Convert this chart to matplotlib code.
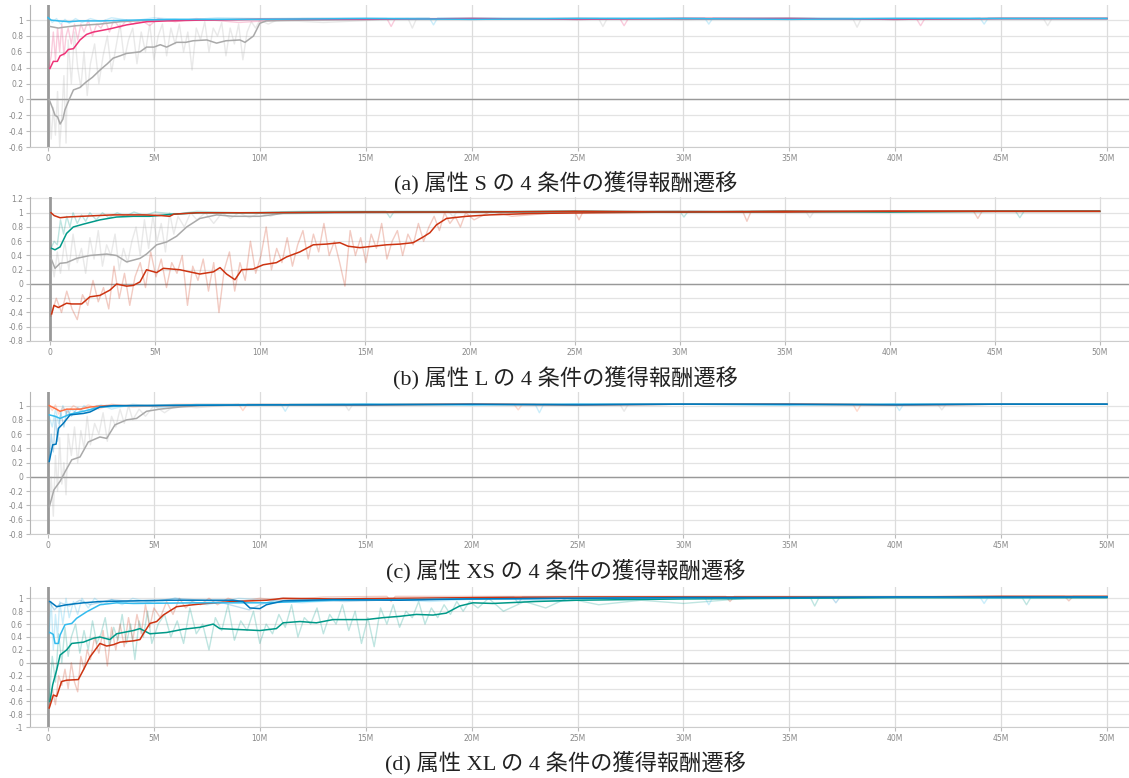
import matplotlib
matplotlib.use('Agg')
import matplotlib.pyplot as plt

# ---- data (steps in millions, reward values) ----

# (a) attribute S
A_BLUE_X = [0.0, 0.15, 0.5, 1.0, 1.5, 2.5, 4.0, 6.0, 10.0, 15, 20, 25, 30, 35, 40, 45, 50]
A_BLUE_Y = [1.03, 1.0, 0.99, 0.98, 0.99, 0.99, 1.0, 1.01, 1.01, 1.02, 1.01, 1.02, 1.02, 1.01, 1.02, 1.02, 1.02]
A_BLUE_RAW_X = [0.0, 0.2, 0.4, 0.6, 0.8, 1.0, 1.3, 1.6, 2.0, 2.5, 3.0, 4.0, 5.0, 6.5, 8.0, 10.0, 14.0, 18.0, 18.2, 18.4, 25.0, 31.0, 31.2, 31.4, 38.0, 44.0, 44.2, 44.4, 50.0]
A_BLUE_RAW_Y = [1.04, 0.97, 1.02, 0.95, 1.01, 0.96, 1.02, 0.97, 1.02, 0.98, 1.03, 0.99, 1.03, 1.0, 1.03, 1.02, 1.03, 1.03, 0.94, 1.03, 1.03, 1.03, 0.95, 1.03, 1.03, 1.03, 0.95, 1.03, 1.03]

A_PINK_X = [0.09, 0.25, 0.44, 0.57, 0.8, 0.96, 1.2, 1.51, 1.82, 2.14, 2.92, 3.71, 4.65, 5.6, 7.17, 10, 15, 20, 25, 30, 35, 40, 45, 50]
A_PINK_Y = [0.39, 0.48, 0.48, 0.55, 0.58, 0.63, 0.64, 0.75, 0.82, 0.85, 0.89, 0.94, 0.98, 0.99, 1.0, 1.01, 1.01, 1.02, 1.01, 1.02, 1.02, 1.01, 1.02, 1.02]
A_PINK_RAW_X = [0.05, 0.15, 0.25, 0.35, 0.45, 0.55, 0.65, 0.75, 0.85, 0.95, 1.1, 1.25, 1.4, 1.55, 1.7, 1.9, 2.1, 2.3, 2.5, 2.7, 2.9, 3.1, 3.4, 3.7, 4.0, 4.4, 4.8, 5.2, 6.0, 7.0, 9.0, 12.0, 16.0, 16.2, 16.4, 22.0, 27.0, 27.2, 27.4, 34.0, 41.0, 41.2, 41.4, 47.0, 50.0]
A_PINK_RAW_Y = [0.4, 0.55, 0.85, 0.5, 0.9, 0.6, 0.95, 0.55, 0.8, 0.9, 0.7, 0.95, 0.75, 0.95, 0.85, 1.0, 0.8, 0.95, 0.9, 1.0, 0.85, 1.0, 0.9, 1.0, 0.95, 1.0, 0.93, 1.02, 0.98, 1.02, 0.97, 1.02, 1.02, 0.92, 1.02, 1.02, 1.02, 0.93, 1.02, 1.02, 1.02, 0.93, 1.02, 1.02, 1.02]

A_GRAY_HI_X = [0.09, 0.49, 0.72, 1.04, 1.35, 2.45, 3.4, 4.81, 10, 15, 20, 25, 30, 35, 40, 45, 50]
A_GRAY_HI_Y = [0.92, 0.9, 0.91, 0.92, 0.93, 0.95, 0.98, 1.0, 1.01, 1.01, 1.02, 1.01, 1.02, 1.02, 1.01, 1.02, 1.02]

A_GRAY_LO_X = [0.05, 0.2, 0.33, 0.45, 0.57, 0.7, 0.8, 1.0, 1.2, 1.5, 1.8, 2.1, 2.45, 2.8, 3.07, 3.4, 3.7, 4.34, 4.65, 5.0, 5.3, 5.6, 6.07, 6.5, 6.85, 7.5, 7.96, 8.4, 9.06, 9.3, 9.7, 10.0, 10.3, 12, 15, 20, 25, 30, 35, 40, 45, 50]
A_GRAY_LO_Y = [0.0, -0.1, -0.2, -0.22, -0.31, -0.25, -0.13, 0.0, 0.12, 0.15, 0.22, 0.28, 0.37, 0.45, 0.52, 0.55, 0.58, 0.6, 0.66, 0.66, 0.69, 0.66, 0.72, 0.72, 0.74, 0.75, 0.71, 0.74, 0.75, 0.72, 0.8, 0.96, 0.99, 1.0, 1.01, 1.01, 1.02, 1.01, 1.02, 1.01, 1.02, 1.02]
A_GRAY_RAW_X = [0.05, 0.15, 0.25, 0.35, 0.45, 0.55, 0.65, 0.75, 0.85, 0.95, 1.1, 1.25, 1.4, 1.55, 1.7, 1.85, 2.0, 2.2, 2.4, 2.6, 2.8, 3.0, 3.2, 3.4, 3.6, 3.8, 4.0, 4.2, 4.4, 4.6, 4.8, 5.0, 5.2, 5.4, 5.6, 5.8, 6.0, 6.2, 6.4, 6.6, 6.8, 7.0, 7.2, 7.4, 7.6, 7.8, 8.0, 8.2, 8.4, 8.6, 8.8, 9.0, 9.2, 9.4, 9.6, 9.8, 10.0, 10.4, 10.8, 13.0, 17.0, 17.2, 17.4, 21.0, 26.0, 26.2, 26.4, 33.0, 38.0, 38.2, 38.4, 43.0, 47.0, 47.2, 47.4, 50.0]
A_GRAY_RAW_Y = [0.0, -0.5, -0.1, -0.45, 0.1, -0.6, -0.2, 0.3, -0.55, 0.75, 0.2, 0.85, 0.4, 0.15, 0.6, 0.05, 0.45, 0.7, 0.2, 0.55, 0.8, 0.35, 0.65, 0.95, 0.5, 0.75, 0.9, 0.45, 0.85, 0.6, 0.95, 0.5, 0.8, 0.95, 0.55, 0.9, 0.7, 0.95, 0.6, 0.85, 0.37, 0.9, 0.75, 0.98, 0.6, 0.9, 0.8, 0.97, 0.55, 0.9, 0.7, 0.95, 0.5, 0.85, 0.98, 0.9, 1.0, 0.95, 1.0, 0.97, 1.02, 0.9, 1.02, 1.02, 1.02, 0.92, 1.02, 1.02, 1.02, 0.91, 1.02, 1.02, 1.02, 0.93, 1.02, 1.02]

# (b) attribute L
B_RED_LO_X = [0.08, 0.19, 0.4, 0.79, 1.03, 1.51, 1.9, 2.38, 2.86, 3.17, 3.65, 3.97, 4.29, 4.6, 5.08, 5.4, 6.19, 6.5, 7.14, 7.78, 8.1, 8.41, 8.81, 9.13, 9.68, 10.16, 10.79, 11.27, 11.9, 12.54, 13.17, 13.81, 14.2, 14.76, 15.4, 16.03, 16.67, 17.3, 17.78, 18.1, 18.41, 18.89, 19.84, 20.95, 23, 26, 30, 35, 40, 45, 50]
B_RED_LO_Y = [-0.42, -0.3, -0.33, -0.27, -0.28, -0.28, -0.18, -0.16, -0.085, 0.0, -0.03, -0.02, 0.03, 0.2, 0.16, 0.22, 0.2, 0.18, 0.14, 0.17, 0.23, 0.14, 0.06, 0.2, 0.21, 0.27, 0.3, 0.38, 0.45, 0.55, 0.56, 0.58, 0.53, 0.51, 0.53, 0.55, 0.56, 0.58, 0.66, 0.72, 0.83, 0.92, 0.95, 0.97, 0.99, 1.0, 1.01, 1.01, 1.02, 1.02, 1.02]
B_RED_RAW_X = [0.05, 0.3, 0.55, 0.8, 1.05, 1.3, 1.55, 1.8, 2.05, 2.3, 2.55, 2.8, 3.05, 3.3, 3.55, 3.8, 4.05, 4.3, 4.55, 4.8, 5.05, 5.3, 5.55, 5.8, 6.05, 6.3, 6.55, 6.8, 7.05, 7.3, 7.55, 7.8, 8.05, 8.3, 8.55, 8.8, 9.05, 9.3, 9.55, 9.8, 10.05, 10.3, 10.55, 10.8, 11.05, 11.3, 11.55, 11.8, 12.05, 12.3, 12.55, 12.8, 13.05, 13.3, 13.55, 13.8, 14.05, 14.3, 14.55, 14.8, 15.05, 15.3, 15.55, 15.8, 16.05, 16.3, 16.55, 16.8, 17.05, 17.3, 17.55, 17.8, 18.05, 18.3, 18.55, 18.8, 19.05, 19.3, 19.55, 19.8, 20.2, 21.0, 22.0, 25.0, 25.2, 25.4, 29.0, 33.0, 33.2, 33.4, 39.0, 44.0, 44.2, 44.4, 50.0]
B_RED_RAW_Y = [-0.45, -0.2, -0.4, -0.1, -0.35, -0.5, -0.15, -0.3, 0.05, -0.25, -0.05, -0.35, 0.25, -0.2, 0.15, -0.3, 0.1, 0.3, -0.05, 0.45, 0.1, 0.35, -0.05, 0.3, 0.15, 0.4, -0.3, 0.25, 0.05, 0.35, -0.1, 0.3, -0.4, 0.2, 0.45, -0.1, 0.3, 0.05, 0.6, 0.15, 0.4, 0.8, 0.2, 0.5, 0.3, 0.65, 0.25, 0.55, 0.75, 0.35, 0.7, 0.45, 0.85, 0.4, 0.6, 0.3, -0.03, 0.75, 0.4, 0.65, 0.3, 0.7, 0.5, 0.85, 0.35, 0.6, 0.75, 0.4, 0.7, 0.55, 0.85, 0.6, 0.8, 0.95, 0.75, 1.0, 0.85, 0.95, 0.8, 1.0, 0.9, 1.02, 0.95, 1.02, 0.9, 1.02, 1.02, 1.02, 0.88, 1.02, 1.02, 1.02, 0.92, 1.02, 1.02]

B_RED_HI_X = [0.05, 0.2, 0.48, 0.8, 1.5, 3.0, 4.5, 5.3, 5.7, 5.9, 7.0, 10, 15, 20, 25, 30, 35, 40, 45, 50]
B_RED_HI_Y = [1.0, 0.96, 0.93, 0.94, 0.95, 0.97, 0.97, 0.96, 0.95, 0.98, 1.0, 1.0, 1.01, 1.01, 1.02, 1.01, 1.02, 1.02, 1.02, 1.02]

B_TEAL_X = [0.08, 0.24, 0.48, 0.79, 1.11, 1.59, 2.38, 3.17, 3.97, 4.76, 5.87, 7.14, 10, 15, 20, 25, 30, 35, 40, 45, 50]
B_TEAL_Y = [0.5, 0.48, 0.52, 0.71, 0.8, 0.84, 0.9, 0.94, 0.95, 0.95, 0.98, 1.0, 1.0, 1.01, 1.01, 1.02, 1.01, 1.02, 1.01, 1.02, 1.02]
B_TEAL_RAW_X = [0.05, 0.2, 0.35, 0.5, 0.65, 0.8, 0.95, 1.1, 1.3, 1.5, 1.7, 1.9, 2.2, 2.5, 2.8, 3.2, 3.6, 4.0, 4.5, 5.0, 6.0, 7.0, 9.0, 12.0, 16.0, 16.2, 16.4, 24.0, 30.0, 30.2, 30.4, 40.0, 46.0, 46.2, 46.4, 50.0]
B_TEAL_RAW_Y = [0.5, 0.6, 0.55, 0.9, 0.7, 0.95, 0.8, 1.0, 0.85, 0.97, 0.88, 1.0, 0.9, 1.0, 0.93, 1.0, 0.95, 1.01, 0.96, 1.01, 0.98, 1.02, 1.0, 1.02, 1.02, 0.93, 1.02, 1.02, 1.02, 0.94, 1.02, 1.02, 1.02, 0.93, 1.02, 1.02]

B_GRAY_X = [0.05, 0.24, 0.48, 0.79, 1.27, 1.9, 2.7, 3.17, 3.65, 4.29, 4.6, 5.08, 5.56, 6.03, 6.51, 7.14, 7.94, 8.73, 10.0, 11.1, 15, 20, 25, 30, 35, 40, 45, 50]
B_GRAY_Y = [0.36, 0.22, 0.29, 0.3, 0.36, 0.4, 0.42, 0.4, 0.31, 0.36, 0.42, 0.55, 0.59, 0.67, 0.8, 0.92, 0.97, 0.95, 0.95, 0.99, 1.0, 1.01, 1.01, 1.02, 1.01, 1.02, 1.02, 1.02]
B_GRAY_RAW_X = [0.05, 0.2, 0.35, 0.5, 0.7, 0.9, 1.1, 1.3, 1.5, 1.7, 1.9, 2.1, 2.3, 2.5, 2.7, 2.9, 3.1, 3.3, 3.5, 3.7, 3.9, 4.1, 4.3, 4.5, 4.7, 4.9, 5.1, 5.3, 5.5, 5.7, 5.9, 6.1, 6.4, 6.7, 7.0, 7.4, 7.8, 8.2, 8.6, 9.0, 9.5, 10.0, 10.5, 11.0, 13.0, 19.0, 19.2, 19.4, 28.0, 36.0, 36.2, 36.4, 50.0]
B_GRAY_RAW_Y = [0.35, 0.1, 0.45, 0.15, 0.6, 0.2, 0.7, 0.3, 0.5, 0.15, 0.65, 0.35, 0.75, 0.25, 0.55, 0.4, 0.7, 0.2, 0.5, 0.3, 0.6, 0.8, 0.4, 0.9, 0.5, 0.95, 0.6, 0.85, 0.45, 1.0, 0.7, 0.95, 0.8, 1.0, 0.9, 1.0, 0.85, 1.0, 0.92, 1.0, 0.93, 1.0, 0.95, 1.01, 1.02, 1.02, 0.94, 1.02, 1.02, 1.02, 0.93, 1.02, 1.02]

# (c) attribute XS
C_ORANGE_X = [0.06, 0.33, 0.57, 0.88, 1.51, 1.98, 2.77, 5, 10, 15, 20, 25, 30, 35, 40, 45, 50]
C_ORANGE_Y = [1.0, 0.96, 0.92, 0.95, 0.95, 0.98, 1.0, 1.0, 1.01, 1.01, 1.02, 1.01, 1.02, 1.02, 1.01, 1.02, 1.02]
C_ORANGE_RAW_X = [0.05, 0.2, 0.35, 0.5, 0.7, 0.9, 1.2, 1.5, 1.9, 2.4, 3.0, 4.0, 6.0, 9.0, 9.2, 9.4, 15.0, 22.0, 22.2, 22.4, 31.0, 38.0, 38.2, 38.4, 46.0, 50.0]
C_ORANGE_RAW_Y = [1.0, 0.93, 1.01, 0.88, 0.98, 0.9, 1.0, 0.94, 1.01, 0.95, 1.02, 0.98, 1.02, 1.02, 0.93, 1.02, 1.02, 1.02, 0.94, 1.02, 1.02, 1.02, 0.92, 1.02, 1.02, 1.02]

C_LBLUE_X = [0.06, 0.33, 0.57, 1.04, 1.67, 2.45, 4, 7, 10, 15, 20, 25, 30, 35, 40, 45, 50]
C_LBLUE_Y = [0.87, 0.85, 0.82, 0.88, 0.92, 0.98, 1.0, 1.01, 1.01, 1.02, 1.01, 1.02, 1.02, 1.01, 1.02, 1.02, 1.02]
C_LBLUE_RAW_X = [0.05, 0.2, 0.35, 0.5, 0.7, 0.9, 1.1, 1.4, 1.7, 2.0, 2.5, 3.0, 4.0, 5.5, 7.0, 11.0, 11.2, 11.4, 17.0, 23.0, 23.2, 23.4, 32.0, 40.0, 40.2, 40.4, 47.0, 50.0]
C_LBLUE_RAW_Y = [0.85, 0.7, 0.95, 0.75, 1.0, 0.85, 0.95, 0.88, 1.0, 0.93, 1.01, 0.95, 1.02, 0.97, 1.02, 1.02, 0.92, 1.02, 1.02, 1.02, 0.9, 1.02, 1.02, 1.02, 0.93, 1.02, 1.02, 1.02]

C_DBLUE_X = [0.06, 0.22, 0.38, 0.49, 0.72, 1.04, 1.67, 1.98, 2.45, 3.08, 5, 10, 15, 20, 25, 30, 35, 40, 45, 50]
C_DBLUE_Y = [0.22, 0.45, 0.46, 0.68, 0.75, 0.87, 0.89, 0.91, 0.98, 1.0, 1.0, 1.01, 1.01, 1.02, 1.01, 1.02, 1.02, 1.01, 1.02, 1.02]
C_DBLUE_RAW_X = [0.05, 0.15, 0.25, 0.35, 0.45, 0.6, 0.75, 0.9, 1.1, 1.4, 1.8, 2.3, 3.0]
C_DBLUE_RAW_Y = [0.2, 0.6, 0.35, 0.85, 0.5, 0.9, 0.7, 0.95, 0.85, 0.97, 0.9, 1.0, 1.0]

C_GRAY_X = [0.06, 0.17, 0.28, 0.57, 0.8, 1.12, 1.51, 1.9, 2.45, 2.77, 3.16, 3.71, 4.18, 4.65, 5.28, 6.23, 7.17, 10, 15, 20, 25, 30, 35, 40, 45, 50]
C_GRAY_Y = [-0.42, -0.3, -0.18, -0.06, 0.07, 0.24, 0.28, 0.49, 0.56, 0.54, 0.73, 0.8, 0.82, 0.92, 0.95, 0.98, 1.0, 1.01, 1.01, 1.02, 1.01, 1.02, 1.02, 1.01, 1.02, 1.02]
C_GRAY_RAW_X = [0.05, 0.15, 0.25, 0.35, 0.45, 0.55, 0.65, 0.75, 0.85, 0.95, 1.1, 1.25, 1.4, 1.55, 1.7, 1.85, 2.0, 2.2, 2.4, 2.6, 2.8, 3.0, 3.2, 3.4, 3.6, 3.8, 4.0, 4.3, 4.6, 5.0, 5.5, 6.0, 7.0, 9.0, 14.0, 14.2, 14.4, 21.0, 27.0, 27.2, 27.4, 36.0, 42.0, 42.2, 42.4, 50.0]
C_GRAY_RAW_Y = [-0.4, 0.0, -0.55, 0.3, -0.2, 0.55, -0.1, 0.2, -0.25, 0.6, 0.3, 0.7, 0.2, 0.65, 0.4, 0.85, 0.45, 0.75, 0.6, 0.9, 0.5, 0.85, 0.7, 0.95, 0.75, 1.0, 0.8, 0.95, 0.85, 1.0, 0.9, 1.0, 0.97, 1.02, 1.02, 0.93, 1.02, 1.02, 1.02, 0.92, 1.02, 1.02, 1.02, 0.94, 1.02, 1.02]

# (d) attribute XL
D_DBLUE_X = [0.09, 0.41, 0.88, 1.67, 2.45, 4.03, 5.6, 7.17, 8.74, 9.21, 9.53, 10.0, 10.31, 11.1, 13.46, 16.6, 19.75, 25, 30, 35, 40, 45, 50]
D_DBLUE_Y = [0.95, 0.87, 0.9, 0.93, 0.95, 0.96, 0.97, 0.97, 0.97, 0.95, 0.85, 0.84, 0.9, 0.96, 0.98, 0.97, 0.99, 1.0, 1.01, 1.01, 1.02, 1.02, 1.02]
D_DBLUE_RAW_X = [0.05, 0.3, 0.6, 1.0, 1.5, 2.0, 3.0, 4.5, 6.0, 8.0, 9.5, 10.0, 11.0, 14.0, 18.0, 22.0, 22.2, 22.4, 30.0, 37.0, 37.2, 37.4, 45.0, 50.0]
D_DBLUE_RAW_Y = [0.95, 0.82, 0.93, 0.88, 0.97, 0.9, 0.98, 0.93, 1.0, 0.95, 0.82, 0.9, 1.0, 0.95, 1.0, 1.02, 0.92, 1.02, 1.02, 1.02, 0.93, 1.02, 1.02, 1.02]

D_LBLUE_X = [0.09, 0.25, 0.33, 0.49, 0.57, 0.8, 1.12, 1.35, 1.82, 2.45, 3.24, 4.03, 7.17, 10.31, 13.46, 20, 25, 30, 35, 40, 45, 50]
D_LBLUE_Y = [0.47, 0.44, 0.3, 0.3, 0.43, 0.59, 0.61, 0.69, 0.79, 0.9, 0.93, 0.92, 0.93, 0.93, 0.97, 0.99, 1.0, 1.01, 1.01, 1.02, 1.01, 1.02]
D_LBLUE_RAW_X = [0.05, 0.15, 0.25, 0.35, 0.45, 0.55, 0.7, 0.85, 1.0, 1.2, 1.4, 1.6, 1.9, 2.2, 2.6, 3.0, 3.5, 4.0, 5.0, 6.0, 7.5, 9.0, 12.0, 15.0, 18.0, 21.0, 24.0, 27.0, 31.0, 31.2, 31.4, 38.0, 44.0, 44.2, 44.4, 50.0]
D_LBLUE_RAW_Y = [0.45, 0.95, 0.2, 0.75, 0.4, 0.95, 0.6, 1.0, 0.7, 0.95, 0.75, 1.0, 0.85, 1.0, 0.9, 0.98, 0.9, 1.0, 0.92, 1.0, 0.9, 1.0, 0.93, 1.0, 0.95, 1.0, 0.95, 1.02, 1.02, 0.9, 1.02, 1.02, 1.02, 0.92, 1.02, 1.02]

D_TEAL_X = [0.09, 0.22, 0.41, 0.57, 0.88, 1.12, 1.67, 2.14, 2.45, 2.92, 3.24, 4.03, 4.34, 4.81, 5.6, 6.38, 7.17, 7.8, 8.11, 8.74, 10.0, 10.78, 11.1, 11.9, 12.67, 13.46, 15.03, 15.82, 16.6, 17.39, 18.18, 18.8, 19.43, 20.06, 21.0, 23.0, 25.0, 30, 35, 40, 45, 50]
D_TEAL_Y = [-0.6, -0.34, -0.11, 0.12, 0.2, 0.3, 0.32, 0.38, 0.4, 0.36, 0.45, 0.5, 0.53, 0.45, 0.47, 0.52, 0.55, 0.6, 0.53, 0.52, 0.5, 0.53, 0.62, 0.64, 0.62, 0.67, 0.67, 0.7, 0.72, 0.75, 0.74, 0.77, 0.88, 0.93, 0.92, 0.95, 0.97, 0.99, 1.0, 1.01, 1.01, 1.01]
D_TEAL_RAW_X = [0.05, 0.2, 0.35, 0.5, 0.65, 0.8, 0.95, 1.1, 1.3, 1.5, 1.7, 1.9, 2.1, 2.3, 2.5, 2.7, 2.9, 3.1, 3.3, 3.5, 3.7, 3.9, 4.1, 4.3, 4.5, 4.7, 4.9, 5.2, 5.5, 5.8, 6.1, 6.4, 6.7, 7.0, 7.3, 7.6, 7.9, 8.2, 8.5, 8.8, 9.1, 9.4, 9.7, 10.0, 10.3, 10.6, 10.9, 11.2, 11.5, 11.8, 12.1, 12.4, 12.7, 13.0, 13.3, 13.6, 13.9, 14.2, 14.5, 14.8, 15.1, 15.4, 15.7, 16.0, 16.3, 16.6, 16.9, 17.2, 17.5, 17.8, 18.1, 18.4, 18.7, 19.0, 19.3, 19.6, 19.9, 20.3, 20.8, 21.5, 22.5, 23.5, 24.5, 26.0, 28.0, 30.0, 33.0, 36.0, 36.2, 36.4, 41.0, 46.0, 46.2, 46.4, 50.0]
D_TEAL_RAW_Y = [-0.6, 0.1, -0.3, 0.45, 0.0, 0.55, 0.1, 0.4, 0.6, 0.15, 0.5, 0.2, 0.65, 0.3, 0.45, 0.7, 0.25, 0.55, 0.35, 0.75, 0.3, 0.6, 0.05, 0.65, 0.4, 0.8, 0.3, 0.6, 0.75, 0.4, 0.65, 0.3, 0.85, 0.45, 0.6, 0.2, 0.7, 0.5, 0.9, 0.35, 0.65, 0.5, 0.8, 0.3, 0.6, 0.45, 0.75, 0.55, 0.9, 0.4, 0.7, 0.6, 0.85, 0.45, 0.75, 0.6, 0.9, 0.5, 0.8, 0.3, 0.7, 0.25, 0.85, 0.6, 0.9, 0.55, 0.8, 0.7, 0.95, 0.6, 0.85, 0.7, 0.9, 0.75, 0.95, 0.8, 0.95, 0.85, 1.0, 0.8, 0.95, 0.85, 1.0, 0.9, 0.97, 0.92, 1.0, 1.01, 0.88, 1.01, 1.01, 1.01, 0.9, 1.01, 1.01]

D_RED_X = [0.06, 0.25, 0.41, 0.64, 0.88, 1.43, 1.67, 1.98, 2.45, 2.77, 3.08, 3.4, 4.03, 4.34, 4.5, 4.81, 5.13, 5.44, 6.07, 6.85, 7.48, 8.74, 10.31, 11.1, 13.46, 16.6, 20, 25, 30, 35, 40, 45, 50]
D_RED_Y = [-0.7, -0.5, -0.52, -0.29, -0.27, -0.26, -0.11, 0.09, 0.3, 0.26, 0.28, 0.32, 0.34, 0.36, 0.45, 0.61, 0.64, 0.74, 0.87, 0.9, 0.92, 0.95, 0.97, 1.0, 0.99, 1.0, 1.01, 1.02, 1.02, 1.02, 1.02, 1.03, 1.03]
D_RED_RAW_X = [0.05, 0.2, 0.35, 0.5, 0.65, 0.8, 0.95, 1.1, 1.25, 1.4, 1.55, 1.7, 1.85, 2.0, 2.2, 2.4, 2.6, 2.8, 3.0, 3.2, 3.4, 3.6, 3.8, 4.0, 4.2, 4.4, 4.6, 4.8, 5.0, 5.3, 5.6, 5.9, 6.2, 6.5, 6.8, 7.2, 7.6, 8.0, 8.5, 9.0, 10.0, 11.0, 13.0, 16.0, 16.2, 16.4, 24.0, 32.0, 32.2, 32.4, 42.0, 48.0, 48.2, 48.4, 50.0]
D_RED_RAW_Y = [-0.7, -0.4, -0.65, -0.2, -0.35, -0.1, -0.4, 0.0, -0.3, -0.45, 0.1, -0.1, 0.2, 0.05, 0.4, 0.15, 0.5, -0.05, 0.55, 0.2, 0.6, 0.25, 0.7, 0.35, 0.75, 0.45, 0.9, 0.55, 0.85, 0.7, 0.95, 0.75, 1.0, 0.85, 0.95, 0.9, 1.0, 0.9, 1.0, 0.95, 1.0, 0.97, 1.02, 1.03, 0.95, 1.03, 1.03, 1.03, 0.95, 1.03, 1.03, 1.03, 0.96, 1.03, 1.03]

CAPTIONS = ['(a) 属性 S の 4 条件の獲得報酬遷移', '(b) 属性 L の 4 条件の獲得報酬遷移',
            '(c) 属性 XS の 4 条件の獲得報酬遷移', '(d) 属性 XL の 4 条件の獲得報酬遷移']
X_TICKS = [0, 5, 10, 15, 20, 25, 30, 35, 40, 45, 50]

RED = '#cc3311'
TEAL = '#009988'
GRAY = '#a9a9a9'
PINK = '#ee3377'
LBLUE = '#33bbee'
DBLUE = '#0077bb'
ORANGE = '#ff7043'


def fmt_y(v):
    v = round(v, 1)
    return '0' if v == 0 else f'{v:g}'


def draw_panel(ax, series, xlim, ylim, yticks):
    for tick in yticks:
        ax.axhline(tick, color='#e3e3e3', lw=0.9, zorder=0)
    for tick in X_TICKS[1:]:
        ax.axvline(tick, color='#dcdcdc', lw=0.9, zorder=0)
    ax.axhline(0, color='#999999', lw=1.0, zorder=1)
    ax.axvline(0, color='#999999', lw=2.0, zorder=1)

    for color, raw_x, raw_y, _, _ in series:
        if raw_x:
            ax.plot(raw_x, raw_y, color=color, lw=1.0, alpha=0.25, zorder=2)
    for color, _, _, x, y in series:
        ax.plot(x, y, color=color, lw=1.1, zorder=3)

    ax.set_xlim(*xlim)
    ax.set_ylim(*ylim)
    ax.set_xticks(X_TICKS)
    ax.set_xticklabels(['0' if t == 0 else f'{t}M' for t in X_TICKS])
    ax.set_yticks(yticks)
    ax.set_yticklabels([fmt_y(t) for t in yticks])
    ax.tick_params(axis='both', labelsize=5.5, colors='#bbbbbb', labelcolor='#888888',
                   length=3, width=0.8, pad=2)
    for side in ['top', 'right']:
        ax.spines[side].set_visible(False)
    ax.spines['left'].set_color('#b5b5b5')
    ax.spines['bottom'].set_color('#cccccc')


def yrange(lo, hi):
    out = []
    v = lo
    while v <= hi + 1e-9:
        out.append(round(v, 1))
        v += 0.2
    return out


def main():
    fig = plt.figure(figsize=(11.29, 7.78), dpi=100)

    panels = [
        ([0.0266, 0.811, 0.9734, 0.1825], (-0.85, 51.04), (-0.6, 1.19), yrange(-0.6, 1.0), [
            (GRAY, A_GRAY_RAW_X, A_GRAY_RAW_Y, A_GRAY_LO_X, A_GRAY_LO_Y),
            (GRAY, [], [], A_GRAY_HI_X, A_GRAY_HI_Y),
            (PINK, A_PINK_RAW_X, A_PINK_RAW_Y, A_PINK_X, A_PINK_Y),
            (LBLUE, A_BLUE_RAW_X, A_BLUE_RAW_Y, A_BLUE_X, A_BLUE_Y),
        ]),
        ([0.0266, 0.5617, 0.9734, 0.185], (-0.95, 51.4), (-0.8, 1.22), yrange(-0.8, 1.2), [
            (GRAY, B_GRAY_RAW_X, B_GRAY_RAW_Y, B_GRAY_X, B_GRAY_Y),
            (RED, B_RED_RAW_X, B_RED_RAW_Y, B_RED_LO_X, B_RED_LO_Y),
            (TEAL, B_TEAL_RAW_X, B_TEAL_RAW_Y, B_TEAL_X, B_TEAL_Y),
            (RED, [], [], B_RED_HI_X, B_RED_HI_Y),
        ]),
        ([0.0266, 0.3136, 0.9734, 0.1825], (-0.85, 51.04), (-0.8, 1.19), yrange(-0.8, 1.0), [
            (GRAY, C_GRAY_RAW_X, C_GRAY_RAW_Y, C_GRAY_X, C_GRAY_Y),
            (ORANGE, C_ORANGE_RAW_X, C_ORANGE_RAW_Y, C_ORANGE_X, C_ORANGE_Y),
            (LBLUE, C_LBLUE_RAW_X, C_LBLUE_RAW_Y, C_LBLUE_X, C_LBLUE_Y),
            (DBLUE, C_DBLUE_RAW_X, C_DBLUE_RAW_Y, C_DBLUE_X, C_DBLUE_Y),
        ]),
        ([0.0266, 0.0652, 0.9734, 0.1807], (-0.85, 51.04), (-1.0, 1.18), yrange(-1.0, 1.0), [
            (TEAL, D_TEAL_RAW_X, D_TEAL_RAW_Y, D_TEAL_X, D_TEAL_Y),
            (RED, D_RED_RAW_X, D_RED_RAW_Y, D_RED_X, D_RED_Y),
            (LBLUE, D_LBLUE_RAW_X, D_LBLUE_RAW_Y, D_LBLUE_X, D_LBLUE_Y),
            (DBLUE, D_DBLUE_RAW_X, D_DBLUE_RAW_Y, D_DBLUE_X, D_DBLUE_Y),
        ]),
    ]
    caption_y = [0.765, 0.515, 0.267, 0.019]

    for (rect, xlim, ylim, yticks, series), cap, cy in zip(panels, CAPTIONS, caption_y):
        ax = fig.add_axes(rect)
        draw_panel(ax, series, xlim, ylim, yticks)
        fig.text(0.501, cy, cap, ha='center', va='center', fontsize=16, color='#222222',
                 family=['Liberation Serif', 'Noto Sans CJK JP'])

    fig.savefig('out.png', dpi=100)
    plt.close(fig)


if __name__ == '__main__':
    main()
